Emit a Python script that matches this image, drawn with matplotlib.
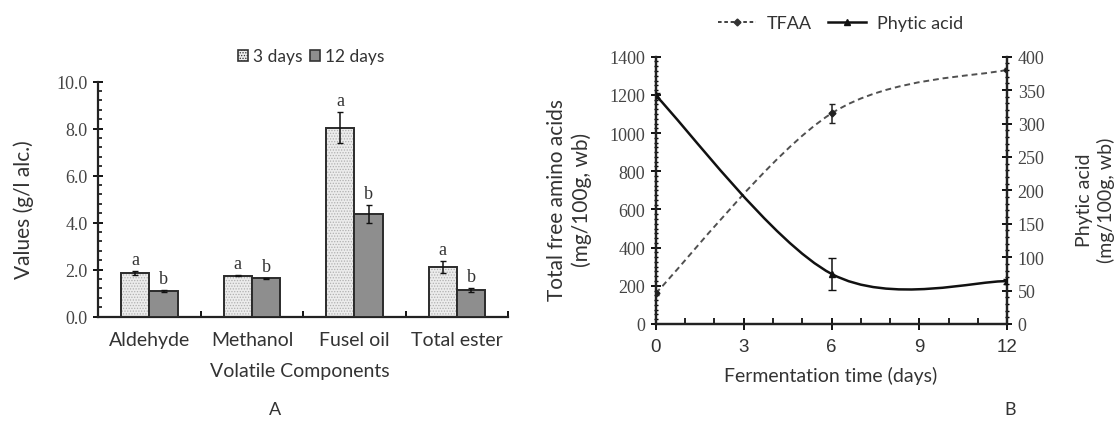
import numpy as np
import matplotlib
matplotlib.use("Agg")
import matplotlib.pyplot as plt
from matplotlib.path import Path
from matplotlib.patches import PathPatch, Patch
from matplotlib.lines import Line2D
from matplotlib.ticker import MultipleLocator

# Panel A - volatile components (g/l alc.)
components = ["Aldehyde", "Methanol", "Fusel oil", "Total ester"]
day3 = [1.87, 1.75, 8.05, 2.13]
day3_err = [0.08, 0.02, 0.65, 0.25]
day12 = [1.08, 1.63, 4.37, 1.14]
day12_err = [0.05, 0.02, 0.39, 0.08]
day3_letters = ["a", "a", "a", "a"]
day12_letters = ["b", "b", "b", "b"]

# Panel B - fermentation time course
days = [0, 6, 12]
tfaa = [161, 1103, 1332]
tfaa_err = [8, 50, 8]
phytic = [342, 75, 64]
phytic_err = [4, 24, 4]

SANS = "Lato"
SERIF = "Liberation Serif"
TXT = "#333333"


def smooth_path(x, y):
    # Excel-like smoothed line through the points (cubic Bezier segments)
    pts = np.column_stack([x, y]).astype(float)
    n = len(pts)
    verts = [pts[0]]
    codes = [Path.MOVETO]
    for i in range(n - 1):
        p_prev = pts[max(i - 1, 0)]
        p0, p1 = pts[i], pts[i + 1]
        p_next = pts[min(i + 2, n - 1)]
        verts += [p0 + (p1 - p_prev) / 6, p1 - (p_next - p0) / 6, p1]
        codes += [Path.CURVE4] * 3
    return Path(verts, codes)


fig = plt.figure(figsize=(11.19, 4.35), dpi=100)

# ---------------- panel A ----------------
ax = fig.add_axes([0.0878, 0.2697, 0.3664, 0.5402])
x = np.arange(len(components))
w = 0.276
plt.rcParams["hatch.linewidth"] = 0.6

ax.bar(x - w / 2, day3, w, color="#ececec", edgecolor="#b0b0b0", hatch="......",
       linewidth=0, zorder=2)
ax.bar(x - w / 2, day3, w, fill=False, edgecolor="#2b2b2b", linewidth=1.4,
       yerr=day3_err, error_kw=dict(ecolor="#111111", elinewidth=1.1, capsize=2.5),
       zorder=3)
ax.bar(x + w / 2, day12, w, color="#8e8e8e", edgecolor="#2b2b2b", linewidth=1.4,
       yerr=day12_err, error_kw=dict(ecolor="#111111", elinewidth=1.1, capsize=2.5),
       zorder=3)

for i in range(len(components)):
    ax.text(x[i] - w / 2, day3[i] + day3_err[i] + 0.12, day3_letters[i],
            ha="center", va="bottom", family=SERIF, fontsize=13, color=TXT)
    ax.text(x[i] + w / 2, day12[i] + day12_err[i] + 0.12, day12_letters[i],
            ha="center", va="bottom", family=SERIF, fontsize=13, color=TXT)

ax.set_xlim(-0.5, len(components) - 0.5)
ax.set_ylim(0, 10)
ax.set_yticks(np.arange(0, 10.1, 2))
ax.set_yticklabels([f"{v:.1f}" for v in np.arange(0, 10.1, 2)])
ax.yaxis.set_minor_locator(MultipleLocator(0.4))
ax.set_xticks(x)
ax.set_xticklabels(components)
ax.set_xticks(np.arange(0.5, len(components), 1), minor=True)
for s in ["top", "right"]:
    ax.spines[s].set_visible(False)
for s in ["left", "bottom"]:
    ax.spines[s].set_linewidth(1.6)
    ax.spines[s].set_color("#222222")
ax.tick_params(axis="y", which="major", direction="inout", length=7, width=1.3,
               labelsize=13, labelcolor="#444444", pad=4)
ax.tick_params(axis="y", which="minor", direction="in", length=3, width=1.1)
ax.tick_params(axis="x", which="major", length=0, pad=10, labelsize=14,
               labelcolor=TXT)
ax.tick_params(axis="x", which="minor", direction="in", length=4, width=1.3)
for lb in ax.get_yticklabels():
    lb.set_family(SERIF)
for lb in ax.get_xticklabels():
    lb.set_family(SANS)

fig.text(0.0215, 0.517, "Values (g/l alc.)", rotation=90, ha="center", va="center",
         family=SANS, fontsize=15, color=TXT)
fig.text(0.268, 0.145, "Volatile Components", ha="center", va="center",
         family=SANS, fontsize=14, color=TXT)

handles_a = [Patch(facecolor="#ececec", edgecolor="#333333", hatch="......", linewidth=1.2),
             Patch(facecolor="#8e8e8e", edgecolor="#333333", linewidth=1.2)]
fig.legend(handles_a, ["3 days", "12 days"], loc="center",
           bbox_to_anchor=(0.278, 0.868), ncol=2, frameon=False,
           handlelength=0.6, handleheight=0.6, handletextpad=0.3,
           columnspacing=0.4, prop=dict(family=SANS, size=12.5), labelcolor=TXT)

fig.text(0.2458, 0.0575, "A", ha="center", va="center", family=SANS,
         fontsize=13, color=TXT)

# ---------------- panel B ----------------
bx = fig.add_axes([0.586, 0.2529, 0.3142, 0.6145])
bx2 = bx.twinx()

bx.add_patch(PathPatch(smooth_path(days, tfaa), fill=False, edgecolor="#505050",
                       linewidth=1.4, linestyle=(0, (3, 2)), zorder=3))
bx.errorbar(days, tfaa, yerr=tfaa_err, fmt="D", markersize=3.5, color="#222222",
            ecolor="#222222", elinewidth=1.1, capsize=2.5, zorder=4)

bx2.add_patch(PathPatch(smooth_path(days, phytic), fill=False, edgecolor="#111111",
                        linewidth=1.8, zorder=3))
bx2.errorbar(days, phytic, yerr=phytic_err, fmt="^", markersize=4, color="#111111",
             ecolor="#111111", elinewidth=1.1, capsize=3, zorder=4)

bx.set_xlim(0, 12)
bx.set_ylim(0, 1400)
bx2.set_ylim(0, 400)
bx.set_xticks([0, 3, 6, 9, 12])
bx.xaxis.set_minor_locator(MultipleLocator(1))
bx.set_yticks(np.arange(0, 1401, 200))
bx.yaxis.set_minor_locator(MultipleLocator(25))
bx2.set_yticks(np.arange(0, 401, 50))
bx2.yaxis.set_minor_locator(MultipleLocator(10))

for a in (bx, bx2):
    a.spines["top"].set_visible(False)
    for s in ["left", "bottom", "right"]:
        a.spines[s].set_linewidth(1.6)
        a.spines[s].set_color("#222222")

bx.tick_params(axis="x", which="major", direction="inout", length=8, width=1.3,
               labelsize=13.5, labelcolor=TXT, pad=6)
bx.tick_params(axis="x", which="minor", direction="in", length=4, width=1.2)
bx.tick_params(axis="y", which="major", direction="inout", length=7, width=1.3,
               labelsize=13, labelcolor="#444444", pad=4)
bx.tick_params(axis="y", which="minor", direction="inout", length=3, width=1.0)
bx2.tick_params(axis="y", which="major", direction="inout", length=7, width=1.3,
                labelsize=13, labelcolor="#444444", pad=4)
bx2.tick_params(axis="y", which="minor", direction="inout", length=3, width=1.0)
for lb in bx.get_yticklabels() + bx2.get_yticklabels():
    lb.set_family(SERIF)
for lb in bx.get_xticklabels():
    lb.set_family("Liberation Sans")

fig.text(0.742, 0.135, "Fermentation time (days)", ha="center", va="center",
         family=SANS, fontsize=14, color=TXT)
fig.text(0.509, 0.54, "Total free amino acids\n(mg/100g, wb)", rotation=90,
         ha="center", va="center", family=SANS, fontsize=15, color=TXT,
         linespacing=1.25)
fig.text(0.979, 0.54, "Phytic acid\n(mg/100g, wb)", rotation=90,
         ha="center", va="center", family=SANS, fontsize=14, color=TXT,
         linespacing=1.2)

handles_b = [Line2D([], [], color="#333333", linestyle=(0, (2, 1.5)), linewidth=1.3,
                    marker="D", markersize=3.5),
             Line2D([], [], color="#111111", linewidth=1.8, marker="^", markersize=4.5)]
fig.legend(handles_b, ["TFAA", "Phytic acid"], loc="center",
           bbox_to_anchor=(0.751, 0.945), ncol=2, frameon=False,
           handlelength=2.1, handletextpad=0.6, columnspacing=0.9,
           prop=dict(family=SANS, size=13), labelcolor=TXT)

fig.text(0.9026, 0.0575, "B", ha="center", va="center", family=SANS,
         fontsize=13, color=TXT)

fig.savefig("out.png", dpi=100, facecolor="white")
